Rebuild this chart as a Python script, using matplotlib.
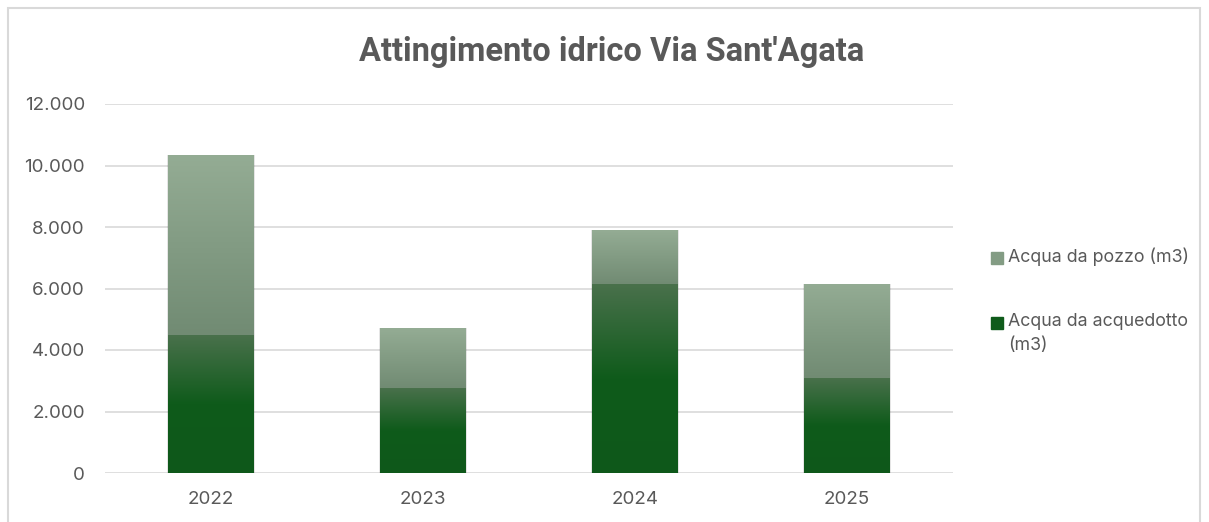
import numpy as np
import matplotlib.pyplot as plt
from matplotlib.colors import LinearSegmentedColormap
from matplotlib.patches import Rectangle
from matplotlib.ticker import FuncFormatter

# data (m3)
anni = ['2022', '2023', '2024', '2025']
acquedotto = [4490, 2765, 6150, 3090]
pozzo = [5850, 1950, 1750, 3060]
serie = ['Acqua da pozzo (m3)', 'Acqua da acquedotto\n(m3)']

plt.rcParams['font.family'] = ['Inter', 'DejaVu Sans']
grigio = '#595959'

fig = plt.figure(figsize=(12.09, 5.22), dpi=100)
# light frame around the chart area
fig.patches.append(Rectangle((8 / 1209, -0.05), 1192 / 1209, 1.05 - 8 / 522,
                             transform=fig.transFigure, fill=False,
                             edgecolor='#d9d9d9', linewidth=1.5))

ax = fig.add_axes([105 / 1209, 1 - 473 / 522, 848 / 1209, 369 / 522])

x = np.arange(len(anni))
w = 0.405

cmap_acq = LinearSegmentedColormap.from_list(
    'acq', [(0, '#0e581a'), (0.5, '#0f5b1b'), (1, '#4a714c')])
cmap_poz = LinearSegmentedColormap.from_list(
    'poz', [(0, '#718b73'), (1, '#94ac94')])
grad = np.linspace(0, 1, 256).reshape(-1, 1)

# soft shadow behind the stacks
totals = [a + p for a, p in zip(acquedotto, pozzo)]
ax.bar(x, totals, w + 0.012, color='#000000', alpha=0.10, zorder=2)

b1 = ax.bar(x, acquedotto, w, color='none', zorder=3)
b2 = ax.bar(x, pozzo, w, bottom=acquedotto, color='none', zorder=3)

for bars, cm in ((b1, cmap_acq), (b2, cmap_poz)):
    for r in bars:
        x0, y0 = r.get_x(), r.get_y()
        im = ax.imshow(grad, cmap=cm, origin='lower', aspect='auto',
                       extent=[x0, x0 + r.get_width(), y0, y0 + r.get_height()],
                       zorder=3)
        im.set_clip_path(r)

ax.set_xlim(-0.5, 3.5)
ax.set_ylim(0, 12000)
ax.set_yticks(range(0, 12001, 2000))
ax.yaxis.set_major_formatter(FuncFormatter(lambda v, p: f'{int(v):,}'.replace(',', '.')))
ax.set_xticks(x)
ax.set_xticklabels(anni)
ax.grid(axis='y', color='#d9d9d9', linewidth=1.2, zorder=0)
ax.set_axisbelow(True)
for s in ax.spines.values():
    s.set_visible(False)
ax.tick_params(length=0, labelsize=13.5, colors=grigio, pad=13)
ax.tick_params(axis='y', pad=14.5)

fig.text(0.506, 1 - 52 / 522, "Attingimento idrico Via Sant'Agata", ha='center', va='center',
         fontsize=23.5, color=grigio, fontweight='bold',
         family=['Roboto', 'DejaVu Sans'])

# legend drawn by hand to match spacing
leg_col = ['#839c84', '#0f5b1b']
leg_y = [258, 323]
for lab, c, yy in zip(serie, leg_col, leg_y):
    fig.patches.append(Rectangle((991 / 1209, 1 - (yy + 6) / 522), 12 / 1209, 12 / 522,
                                 transform=fig.transFigure, color=c))
    fig.text(1008 / 1209, 1 - (yy - 10) / 522, lab, ha='left', va='top',
             fontsize=12.8, color=grigio, linespacing=1.55)

fig.savefig('out.png', dpi=100)
